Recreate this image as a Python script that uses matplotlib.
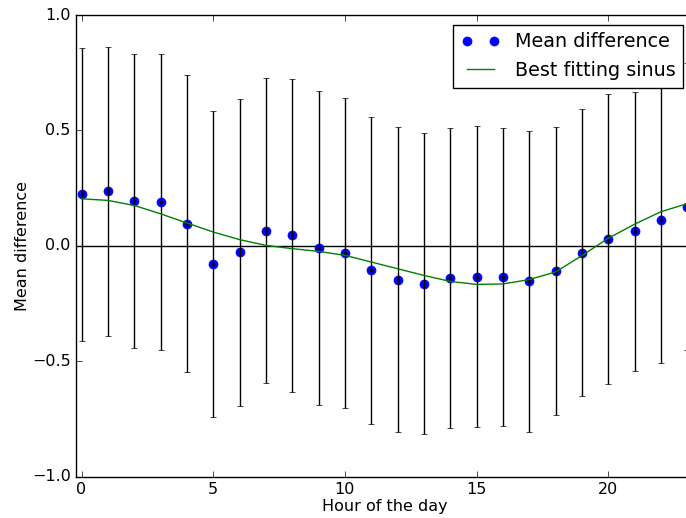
import matplotlib
matplotlib.use("Agg")
import matplotlib.pyplot as plt
import numpy as np

plt.style.use("classic")

hours = list(range(24))
mean_diff = [0.224, 0.236, 0.194, 0.190, 0.096, -0.077, -0.027, 0.066,
             0.045, -0.010, -0.030, -0.106, -0.147, -0.164, -0.140, -0.133,
             -0.135, -0.154, -0.109, -0.029, 0.031, 0.063, 0.110, 0.170]
std_err = [0.634, 0.627, 0.636, 0.641, 0.643, 0.663, 0.665, 0.661,
           0.676, 0.680, 0.672, 0.666, 0.661, 0.652, 0.650, 0.651,
           0.645, 0.652, 0.622, 0.621, 0.628, 0.603, 0.616, 0.623]
sinus_fit = [0.204, 0.197, 0.175, 0.139, 0.099, 0.060, 0.027, 0.002,
             -0.012, -0.024, -0.041, -0.070, -0.099, -0.128, -0.154, -0.167,
             -0.165, -0.146, -0.113, -0.042, 0.033, 0.094, 0.148, 0.183]
x_ticks = [0, 5, 10, 15, 20]
y_ticks = [-1.0, -0.5, 0.0, 0.5, 1.0]

plt.rcParams["font.size"] = 11.5

fig = plt.figure(figsize=(6.86, 5.18), dpi=100)
ax = fig.add_axes([0.1112, 0.0797, 0.8984, 0.8913])

ax.axhline(0, color="k", lw=1.0, zorder=1)
ax.plot(hours, mean_diff, "bo", markeredgecolor="b", markersize=6.5,
        label="Mean difference", zorder=3)
ax.errorbar(hours, mean_diff, yerr=std_err, fmt="k.", markersize=4,
            ecolor="k", elinewidth=1.0, capsize=2.5, zorder=4)
ax.plot(hours, sinus_fit, "g-", lw=1.0, label="Best fitting sinus", zorder=5)

ax.set_xlim(-0.2, 23.2)
ax.set_ylim(-1.0, 1.0)
ax.set_xticks(x_ticks)
ax.set_yticks(y_ticks)
ax.tick_params(labelsize=11.5)
ax.set_xlabel("Hour of the day", fontsize=11.5, labelpad=1.5)
ax.set_ylabel("Mean difference", fontsize=11.5, labelpad=1.0)

leg = ax.legend(loc="upper right", numpoints=2, fontsize=13.8,
                borderaxespad=0.5)
leg.set_zorder(10)

fig.savefig("out.png", dpi=100)
